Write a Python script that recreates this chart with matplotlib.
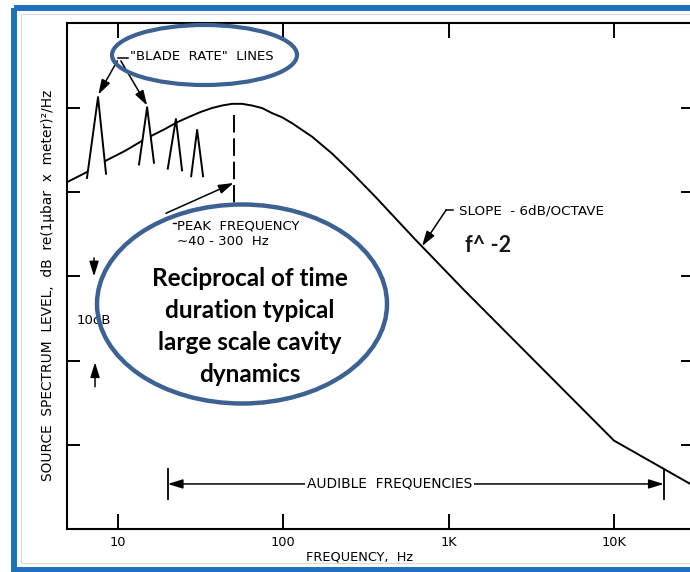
import matplotlib
matplotlib.use("Agg")
import matplotlib.pyplot as plt
import matplotlib.transforms as mtransforms
from matplotlib.patches import Ellipse, Rectangle

plt.rcParams['font.family'] = ['DejaVu Sans']

W, H, DPI = 690, 572, 100

# Broadband source spectrum (Hz, dB)
spec_freq = [4.92, 6.49, 8.35, 11.0, 13.97, 16.3, 19.2, 22.7, 27.3, 31.3, 37.0,
             42.6, 49.0, 56.2, 64.6, 74.3, 85.4, 98.2, 112.9, 149.1, 197.0,
             260.3, 358.6, 620, 1222, 10000, 30500]
spec_db = [41.2, 42.4, 43.7, 44.9, 46.1, 46.8, 47.5, 48.3, 49.0, 49.5, 50.0,
           50.3, 50.5, 50.5, 50.3, 50.0, 49.4, 48.9, 48.2, 46.6, 44.6,
           42.3, 39.5, 34.5, 28.5, 10.5, 5.1]

# Blade-rate tonal lines: apex and the two base points of each spike
blade_freq = [7.57, 15.0, 22.4, 30.1]
blade_peak_db = [51.3, 50.1, 48.7, 47.4]
blade_left_freq = [6.49, 13.4, 20.0, 27.7]
blade_left_db = [41.7, 43.3, 42.8, 41.9]
blade_right_freq = [8.46, 16.5, 24.4, 32.7]
blade_right_db = [42.2, 43.5, 42.6, 41.9]

tick_freqs = [10, 100, 1000, 10000]
tick_labels = ['10', '100', '1K', '10K']
level_ticks = [10, 20, 30, 40, 50]

audible_band = [20, 20000]
peak_freq = 50

fig = plt.figure(figsize=(W / DPI, H / DPI), dpi=DPI)
fig.patch.set_facecolor('white')
# pixel coordinates, origin at top-left
px = mtransforms.Affine2D().scale(1 / W, -1 / H).translate(0, 1) + fig.transFigure

ax = fig.add_axes([67 / W, 1 - 529 / H, (694 - 67) / W, (529 - 23) / H])
ax.set_xscale('log')
ax.set_xlim(4.914, 30480)
ax.set_ylim(0, 60.1)
ax.set_facecolor('white')
for s in ax.spines.values():
    s.set_linewidth(1.5)
ax.set_xticks(tick_freqs)
ax.set_xticklabels(tick_labels)
ax.xaxis.set_minor_locator(matplotlib.ticker.NullLocator())
ax.set_yticks(level_ticks)
ax.set_yticklabels([])
ax.tick_params(axis='x', which='major', direction='in', top=True, bottom=True,
               length=11, width=1.4, labelsize=9.3, pad=5)
ax.tick_params(axis='y', which='major', direction='in', left=True, right=True,
               length=9.5, width=1.4)

# spectrum curve
ax.plot(spec_freq, spec_db, color='black', lw=1.4, zorder=3, solid_joinstyle='round')

# blade-rate spikes drawn over the curve
for i in range(len(blade_freq)):
    xs = [blade_left_freq[i], blade_freq[i], blade_right_freq[i]]
    ys = [blade_left_db[i], blade_peak_db[i], blade_right_db[i]]
    ax.fill(xs, ys, color='white', zorder=4, lw=0)
    ax.plot(xs, ys, color='black', lw=1.4, zorder=5)

# peak-frequency marker
ax.plot([peak_freq, peak_freq], [49.2, 38.5], color='black', lw=1.4,
        dashes=(9, 3), zorder=3)

arrow = dict(arrowstyle='-|>,head_length=0.9,head_width=0.28', color='black',
             lw=1.1, shrinkA=0, shrinkB=0)
fs = 9.5

# "BLADE RATE" LINES annotation
ax.plot([10.0, 11.5], [55.9, 55.9], color='black', lw=1.1, clip_on=False, zorder=6)
ax.text(11.8, 56.1, '"BLADE  RATE"  LINES', fontsize=fs, va='center', ha='left',
        zorder=6)
ax.annotate('', xy=(7.6, 51.6), xytext=(9.9, 55.6), arrowprops=arrow,
            annotation_clip=False, zorder=6)
ax.annotate('', xy=(15.0, 50.3), xytext=(10.4, 55.6), arrowprops=arrow,
            annotation_clip=False, zorder=6)

# peak frequency annotation
ax.annotate('', xy=(peak_freq, 41.1), xytext=(19.5, 37.5), arrowprops=arrow, zorder=6)
ax.plot([21.4, 22.5], [36.4, 36.4], color='black', lw=1.0, zorder=6)
ax.text(22.7, 36.0, 'PEAK  FREQUENCY', fontsize=fs, va='center', ha='left', zorder=6)
ax.text(22.7, 34.2, '\u223c40 - 300  Hz', fontsize=fs, va='center', ha='left', zorder=6)

# 10 dB scale arrows
ax.annotate('', xy=(7.16, 30.0), xytext=(7.16, 32.2), arrowprops=arrow, zorder=6)
ax.annotate('', xy=(7.26, 19.8), xytext=(7.26, 16.9), arrowprops=arrow, zorder=6)
ax.text(5.65, 24.8, '10dB', fontsize=fs, va='center', ha='left', zorder=6)

# slope annotation
ax.plot([1064, 966], [37.9, 37.9], color='black', lw=1.1, zorder=6)
ax.annotate('', xy=(690, 33.6), xytext=(966, 37.9), arrowprops=arrow, zorder=6)
ax.text(1156, 37.8, 'SLOPE  - 6dB/OCTAVE', fontsize=9.7, va='center', ha='left',
        zorder=6)
ax.text(1256, 33.7, 'f^ -2', fontsize=15.5, fontweight='bold', family='Lato',
        color='#1a1a1a', va='center', ha='left', zorder=6)

# audible band
ax.annotate('', xy=(audible_band[0], 5.35), xytext=(audible_band[1], 5.35),
            arrowprops=dict(arrowstyle='<|-|>,head_length=0.9,head_width=0.28',
                            color='black', lw=1.1, shrinkA=0, shrinkB=0), zorder=5)
for f in audible_band:
    ax.plot([f, f], [3.6, 7.1], color='black', lw=1.3, zorder=5)
ax.text(439, 5.35, 'AUDIBLE  FREQUENCIES', fontsize=9.9, va='center', ha='center',
        zorder=6, bbox=dict(facecolor='white', edgecolor='none', pad=1.5))

# axis titles
fig.text(48, 285, 'SOURCE  SPECTRUM  LEVEL,  dB  re(1\u03bcbar  x  meter)\u00b2/Hz',
         transform=px, rotation=90, ha='center', va='center', fontsize=9.9)
fig.text(359, 557, 'FREQUENCY,  Hz', transform=px, ha='center', va='center',
         fontsize=9.3)

# highlight ellipses
blue = '#3d6291'
fig.add_artist(Ellipse((204.5, 55), 185, 60, transform=px, fill=False,
                       ec=blue, lw=3.0, zorder=10))
fig.add_artist(Ellipse((242, 304), 290, 199, transform=px, fill=False,
                       ec=blue, lw=3.2, zorder=10))
for txt, y in [('Reciprocal of time', 279), ('duration typical', 311),
               ('large scale cavity', 343), ('dynamics', 375)]:
    fig.text(250, y, txt, transform=px, ha='center', va='center', fontsize=17.5,
             fontweight='bold', family='Lato', color='black', zorder=11)

# page frame
fig.add_artist(Rectangle((21, 14), 700, 549, transform=px, fill=False,
                         ec='#dadada', lw=0.8, zorder=1))
fig.add_artist(Rectangle((13.5, 7.5), 700, 562, transform=px, fill=False,
                         ec='#1f70c1', lw=4.3, zorder=12))

fig.savefig('out.png', dpi=DPI, facecolor='white')
